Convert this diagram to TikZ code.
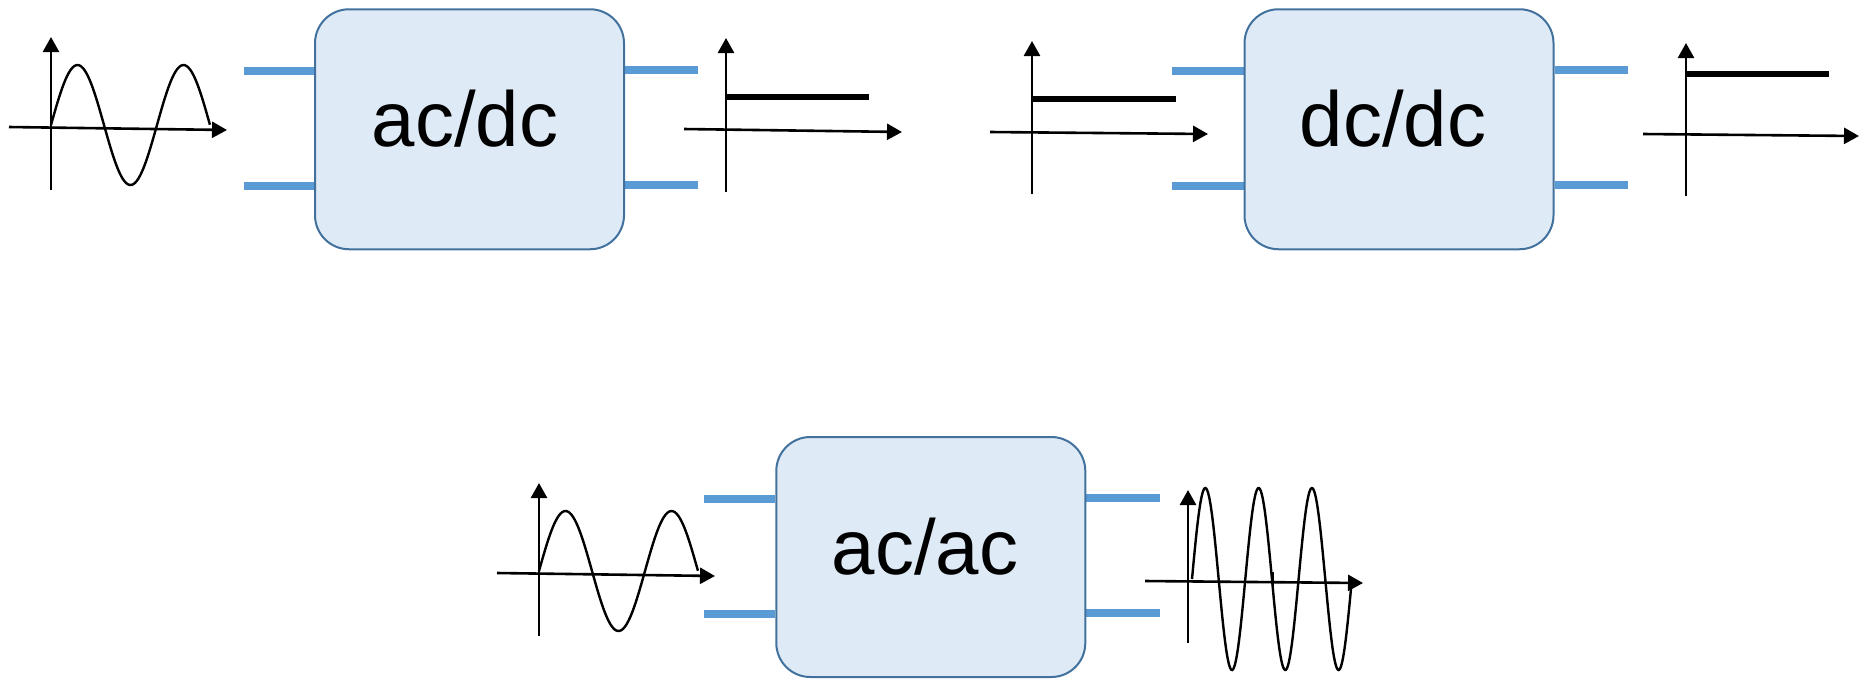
\documentclass[tikz,border=0pt]{standalone}
\usepackage{fontspec}
\setmainfont{Liberation Sans}
\usetikzlibrary{arrows.meta,backgrounds}
\definecolor{boxfill}{HTML}{DEEAF6}
\definecolor{boxline}{HTML}{41719C}
\definecolor{leadblue}{HTML}{5B9BD5}
\begin{document}
\begin{tikzpicture}[x=0.5pt,y=-0.5pt,
  convbox/.style={draw=boxline, line width=1pt, fill=boxfill, rounded corners=17pt,
    minimum width=154.5pt, minimum height=120pt, inner sep=0pt},
  lbl/.style={anchor=base, font=\fontsize{39}{45}\selectfont, inner sep=0pt},
  lead/.style={draw=leadblue, line width=3.6pt},
  axis/.style={line width=1.3pt, -{Triangle[length=7.5pt,width=8pt]}},
  wave/.style={line width=1.2pt},
  dcline/.style={line width=3pt}]
\useasboundingbox (0,0) rectangle (1859,682);

% converter boxes
\node[convbox] (b1) at (469.5,129.25) {};
\node[convbox] (b2) at (1399,129.25) {};
\node[convbox] (b3) at (930.8,557) {};
\node[lbl] (t1) at (465,146) {ac/dc};
\node[lbl] (t2) at (1393,146) {dc/dc};
\node[lbl] (t3) at (925,574) {ac/ac};

% terminal leads
\coordinate (i1a) at (244,71);   \coordinate (i1b) at (244,186);
\coordinate (o1a) at (698,70);   \coordinate (o1b) at (698,185);
\coordinate (i2a) at (1172,71);  \coordinate (i2b) at (1172,186);
\coordinate (o2a) at (1628,70);  \coordinate (o2b) at (1628,185);
\coordinate (i3a) at (704,499);  \coordinate (i3b) at (704,614);
\coordinate (o3a) at (1160,498); \coordinate (o3b) at (1160,613);
\begin{scope}[on background layer]
\draw[lead] (i1a) -- (i1a -| b1.west);
\draw[lead] (i1b) -- (i1b -| b1.west);
\draw[lead] (o1a) -- (o1a -| b1.east);
\draw[lead] (o1b) -- (o1b -| b1.east);
\draw[lead] (i2a) -- (i2a -| b2.west);
\draw[lead] (i2b) -- (i2b -| b2.west);
\draw[lead] (o2a) -- (o2a -| b2.east);
\draw[lead] (o2b) -- (o2b -| b2.east);
\draw[lead] (i3a) -- (i3a -| b3.west);
\draw[lead] (i3b) -- (i3b -| b3.west);
\draw[lead] (o3a) -- (o3a -| b3.east);
\draw[lead] (o3b) -- (o3b -| b3.east);
\end{scope}

% ac input of ac/dc
\draw[axis] (51,190) -- (51,37);
\draw[axis] (9,127) -- (227,130);
\draw[wave] plot[domain=0:1.5, samples=90, smooth] ({51+\x*106},{125-60*sin(\x*360)});

% dc output of ac/dc
\draw[axis] (726,192) -- (726,38);
\draw[axis] (684,129) -- (902,132);
\draw[dcline] (726,97) -- (869,97);

% dc input of dc/dc
\draw[axis] (1032,194) -- (1032,41);
\draw[axis] (990,132) -- (1208,134);
\draw[dcline] (1032,99) -- (1176,99);

% dc output of dc/dc
\draw[axis] (1686,196) -- (1686,43);
\draw[axis] (1643,134) -- (1859,136);
\draw[dcline] (1686,74) -- (1829,74);

% ac input of ac/ac
\draw[axis] (539,636) -- (539,483);
\draw[axis] (497,573) -- (715,576);
\draw[wave] plot[domain=0:1.5, samples=90, smooth] ({539+\x*106},{571-60*sin(\x*360)});

% ac output of ac/ac
\draw[axis] (1188,643) -- (1188,490);
\draw[axis] (1145,581) -- (1363,583);
\draw[wave] plot[domain=0:3, samples=180, smooth] ({1192+\x*53.3},{579-91*sin(\x*360)});
\draw[wave] (1273,572) -- (1273,588);
\end{tikzpicture}
\end{document}
